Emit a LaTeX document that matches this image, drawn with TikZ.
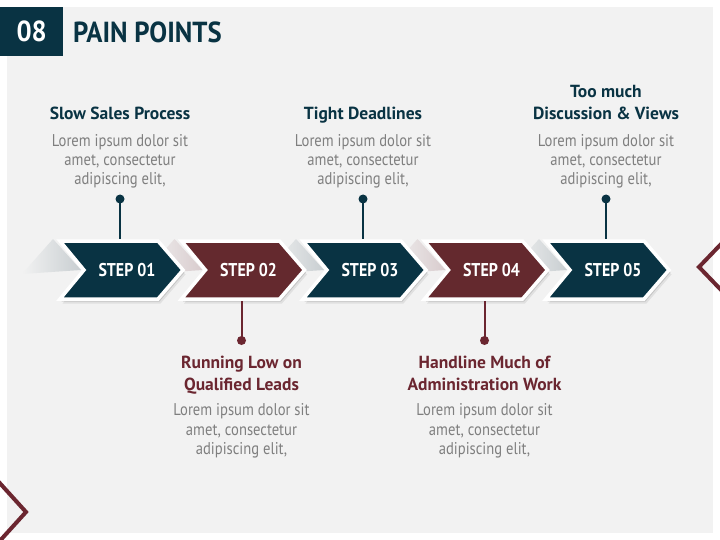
\documentclass[tikz,border=0pt]{standalone}
\usepackage{fontspec}
\setmainfont{PT Sans}
\newfontfamily\cond[FakeStretch=0.86]{PT Sans}
\newfontfamily\condh[FakeStretch=1.0]{PT Sans}
\newfontfamily\condt[FakeStretch=0.92]{PT Sans}
\definecolor{ppteal}{HTML}{093343}
\definecolor{ppred}{HTML}{64292E}
\definecolor{pphead}{HTML}{6B2630}
\definecolor{ppbg}{HTML}{F2F2F2}
\definecolor{pptxt}{HTML}{7F7F7F}
\definecolor{tintteal}{HTML}{C8CED1}
\definecolor{tintred}{HTML}{D8CBCD}
\tikzset{
  headtxt/.style={font=\condh\bfseries\fontsize{17.5}{22}\selectfont, align=center, inner sep=0, anchor=base},
  bodytxt/.style={font=\cond\fontsize{17}{19.4}\selectfont, text=pptxt, align=center, inner sep=0, anchor=base},
  steplbl/.style={font=\cond\bfseries\fontsize{18.5}{20}\selectfont, text=white, inner sep=0},
  dotnode/.style={circle, inner sep=0, minimum size=9},
  conn/.style={line width=2},
  deco/.style={draw=pphead, line width=4, line join=miter},
}
\begin{document}
\begin{tikzpicture}[x=1pt,y=-1pt]
\useasboundingbox (0,0) rectangle (720,540);
\fill[white] (0,0) rectangle (720,540);
\fill[ppbg] (7,7) rectangle (713,533);
% title
\node[fill=ppteal, minimum width=63, minimum height=49, anchor=north west, inner sep=0,
      text=white, font=\condt\bfseries\fontsize{29}{32}\selectfont] (num) at (0,7) {08};
\node[anchor=west, inner sep=0, text=ppteal, font=\condt\bfseries\fontsize{29}{32}\selectfont] (title) at (73,32) {PAIN POINTS};
% decorative chevrons
\draw[deco] (-3,480) -- (26,512) -- (-3,544);
\draw[deco] (723,242) -- (699,267) -- (723,292);
% fold shadings
\foreach \L/\t in {60/tintteal,181.5/tintred,303/tintteal,424.5/tintred,546/tintteal} {
  \shade[left color=ppbg, right color=\t] (\L-7,239) -- (\L+21,270) -- (\L-38,274) -- cycle;
}
% chevrons
\foreach \L/\c/\n [count=\i] in {60/ppteal/01,181.5/ppred/02,303/ppteal/03,424.5/ppred/04,546/ppteal/05} {
  \fill[black, opacity=0.07, shift={(2.5,4.5)}] (\L,241) -- ++(98,0) -- ++(25,29) -- ++(-25,29) -- ++(-98,0) -- ++(24,-29) -- cycle;
  \fill[black, opacity=0.12, shift={(1.5,2.5)}] (\L,241) -- ++(98,0) -- ++(25,29) -- ++(-25,29) -- ++(-98,0) -- ++(24,-29) -- cycle;
  \filldraw[fill=\c, draw=white, line width=3.5, line join=miter] (\L,241) -- ++(98,0) -- ++(25,29) -- ++(-25,29) -- ++(-98,0) -- ++(24,-29) -- cycle;
  \node[steplbl] (s\i) at (\L+67,270) {STEP \n};
  \coordinate (top\i) at (\L+60,239);
  \coordinate (bot\i) at (\L+60,301);
}
% connectors
\node[dotnode, fill=ppteal] (d1) at (120,199) {};
\node[dotnode, fill=ppteal] (d3) at (363,199) {};
\node[dotnode, fill=ppteal] (d5) at (606,199) {};
\node[dotnode, fill=pphead] (d2) at (241.5,340.5) {};
\node[dotnode, fill=pphead] (d4) at (484.5,340.5) {};
\draw[conn, ppteal] (d1.center) -- (top1);
\draw[conn, ppteal] (d3.center) -- (top3);
\draw[conn, ppteal] (d5.center) -- (top5);
\draw[conn, pphead] (d2.center) -- (bot2);
\draw[conn, pphead] (d4.center) -- (bot4);
% top labels
\node[headtxt, text=ppteal] (h1) at (120,119.3) {Slow Sales Process};
\node[bodytxt] (b1) at (120,185) {Lorem ipsum dolor sit\\amet, consectetur\\adipiscing elit,};
\node[headtxt, text=ppteal] (h3) at (363,119.3) {Tight Deadlines};
\node[bodytxt] (b3) at (363,185) {Lorem ipsum dolor sit\\amet, consectetur\\adipiscing elit,};
\node[headtxt, text=ppteal] (h5) at (606,119.3) {Too much\\Discussion \& Views};
\node[bodytxt] (b5) at (606,185) {Lorem ipsum dolor sit\\amet, consectetur\\adipiscing elit,};
% bottom labels
\node[headtxt, text=pphead] (h2) at (241.5,390) {Running Low on\\Qualified Leads};
\node[bodytxt] (b2) at (241.5,454.5) {Lorem ipsum dolor sit\\amet, consectetur\\adipiscing elit,};
\node[headtxt, text=pphead] (h4) at (484.5,390) {Handline Much of\\Administration Work};
\node[bodytxt] (b4) at (484.5,454.5) {Lorem ipsum dolor sit\\amet, consectetur\\adipiscing elit,};
\end{tikzpicture}
\end{document}
